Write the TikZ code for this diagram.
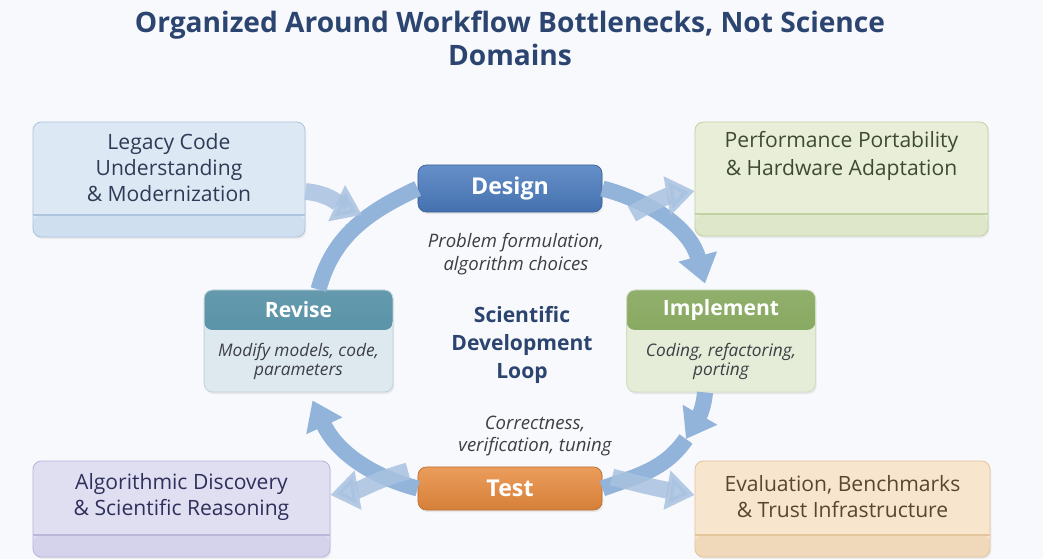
\documentclass[tikz,border=0pt]{standalone}
\usepackage{fontspec}
\setmainfont{Open Sans}
\usetikzlibrary{arrows.meta,shadows}

\definecolor{bgcol}{HTML}{F8F9FC}
\definecolor{titlecol}{HTML}{2B4470}
\definecolor{notecol}{HTML}{3C3F45}
\definecolor{loopcol}{HTML}{93B4DA}
\definecolor{sidecol}{HTML}{A9C2E0}
\definecolor{legfill}{HTML}{DDE8F5}
\definecolor{legdraw}{HTML}{AFC4DE}
\definecolor{legfoot}{HTML}{D0DFF0}
\definecolor{legtext}{HTML}{2E3B55}
\definecolor{perffill}{HTML}{E8EED8}
\definecolor{perfdraw}{HTML}{C3D2A5}
\definecolor{perffoot}{HTML}{DEE7C9}
\definecolor{perftext}{HTML}{3F4A35}
\definecolor{algfill}{HTML}{E0DFF2}
\definecolor{algdraw}{HTML}{B9B7DA}
\definecolor{algfoot}{HTML}{D5D3EC}
\definecolor{algtext}{HTML}{2E2F5A}
\definecolor{evalfill}{HTML}{F8E5CD}
\definecolor{evaldraw}{HTML}{E3C59E}
\definecolor{evalfoot}{HTML}{F0D8BA}
\definecolor{evaltext}{HTML}{5A4630}
\definecolor{designcol}{HTML}{4A7BBE}
\definecolor{testcol}{HTML}{E88B3E}
\definecolor{revhead}{HTML}{4A889F}
\definecolor{revbody}{HTML}{DDE8EF}
\definecolor{imphead}{HTML}{7DA152}
\definecolor{impbody}{HTML}{E5ECD7}

\tikzset{
	outerbox/.style n args={3}{rounded corners=6pt, fill=#1, draw=#2, line width=0.6pt,
		drop shadow={opacity=0.12,shadow xshift=0.03cm,shadow yshift=-0.05cm},
		path picture={\fill[#3] (path picture bounding box.south west) rectangle ([yshift=0.55cm]path picture bounding box.south east);
			\draw[#2,line width=0.8pt] ([yshift=0.55cm]path picture bounding box.south west) -- ([yshift=0.55cm]path picture bounding box.south east);}},
	outertext/.style={font=\fontsize{15}{18.5}\selectfont, align=center},
	phasebox/.style 2 args={rounded corners=6pt, fill=#2, draw=#1!35, line width=0.6pt,
		minimum width=4.72cm, minimum height=2.55cm,
		drop shadow={opacity=0.15,shadow xshift=0.03cm,shadow yshift=-0.05cm},
		path picture={\shade[top color=#1!85!white, bottom color=#1] (path picture bounding box.north west) rectangle ([yshift=-1cm]path picture bounding box.north east);}},
	stepbtn/.style={rounded corners=6pt, top color=#1!85!white, bottom color=#1!92!black, draw=#1!80!black,
		line width=0.5pt, minimum width=4.6cm, text=white, font=\bfseries\fontsize{16.5}{18}\selectfont,
		drop shadow={opacity=0.15,shadow xshift=0.03cm,shadow yshift=-0.05cm}},
	headtext/.style={text=white, font=\bfseries\fontsize{15}{18}\selectfont},
	notetext/.style={text=notecol, font=\itshape\fontsize{13.2}{16.3}\selectfont, align=center},
	bodytext/.style={text=notecol, font=\itshape\fontsize{12.3}{13.8}\selectfont, align=center},
	loopband/.style={draw=loopcol, line width=0.4cm},
	looptip/.style={-{Triangle[width=0.95cm,length=0.7cm]}},
	sidearrow/.style={draw=sidecol, line width=0.42cm, opacity=0.85, -{Triangle[width=0.95cm,length=0.7cm]}},
}

\begin{document}
\begin{tikzpicture}[x=0.025cm, y=0.025cm]
	\path[use as bounding box, fill=bgcol] (0,0) rectangle (1043,559);

	\node[font=\bfseries\fontsize{20}{23.4}\selectfont, text=titlecol, align=center] (title) at (510,520.5)
		{Organized Around Workflow Bottlenecks, Not Science\\Domains};

	% outer boxes
	\node[outerbox={legfill}{legdraw}{legfoot}, minimum width=6.8cm, minimum height=2.875cm] (legacy) at (169,379.5) {};
	\node[outertext, text=legtext] (legacytxt) at ([yshift=0.29cm]legacy.center) {Legacy Code\\Understanding\\\& Modernization};
	\node[outerbox={perffill}{perfdraw}{perffoot}, minimum width=7.325cm, minimum height=2.85cm] (perf) at (841.5,380) {};
	\node[outertext, text=perftext, font=\fontsize{15}{19.8}\selectfont] (perftxt) at ([yshift=0.58cm]perf.center) {Performance Portability\\\& Hardware Adaptation};
	\node[outerbox={algfill}{algdraw}{algfoot}, minimum width=7.425cm, minimum height=2.4cm] (algo) at (181.5,50) {};
	\node[outertext, text=algtext] (algotxt) at ([yshift=0.3cm]algo.center) {Algorithmic Discovery\\\& Scientific Reasoning};
	\node[outerbox={evalfill}{evaldraw}{evalfoot}, minimum width=7.375cm, minimum height=2.4cm] (eval) at (842.5,50) {};
	\node[outertext, text=evaltext] (evaltxt) at ([yshift=0.3cm]eval.center) {Evaluation, Benchmarks\\\& Trust Infrastructure};

	% loop steps
	\node[stepbtn=designcol, minimum height=1.175cm] (design) at (510,370.5) {Design};
	\node[notetext] (designnote) at (516,305) {Problem formulation,\\algorithm choices};
	\node[stepbtn=testcol, minimum height=1.075cm] (test) at (510,70.5) {Test};
	\node[notetext] (testnote) at (535,123) {Correctness,\\verification, tuning};

	\node[phasebox={revhead}{revbody}] (revise) at (298.5,218) {};
	\node[headtext] (revisehead) at ([yshift=-0.5cm]revise.north) {Revise};
	\node[bodytext] (revisebody) at ([yshift=-1.79cm]revise.north) {Modify models, code,\\parameters};
	\node[phasebox={imphead}{impbody}] (implement) at (721,218) {};
	\node[headtext] (implementhead) at ([yshift=-0.5cm]implement.north) {Implement};
	\node[bodytext] (implementbody) at ([yshift=-1.79cm]implement.north) {Coding, refactoring,\\porting};

	\node[font=\bfseries\fontsize{15}{19.8}\selectfont, text=titlecol, align=center] (looptitle) at (522,214)
		{Scientific\\Development\\Loop};

	% loop arrows
	\coordinate (imptip) at (686,120);
	\draw[loopband] ([xshift=0.5cm]revise.north) to[out=75,in=205] (design.west);
	\draw[loopband,looptip] (design.east) to[out=-15,in=105] ([xshift=-0.4cm,yshift=0.15cm]implement.north);
	\draw[loopband] (imptip) to[out=235,in=20] (test.east);
	\draw[loopband,looptip] ([xshift=-0.4cm]implement.south) to[out=-95,in=60] (imptip);
	\draw[loopband,looptip] (test.west) to[out=165,in=-65] ([xshift=0.35cm,yshift=-0.2cm]revise.south);

	% side arrows
	\coordinate (legtip) at (362,344);
	\coordinate (perfsrc) at (632,345);
	\coordinate (evalsrc) at (612,82);
	\coordinate (algsrc) at (408,88);
	\draw[sidearrow] ([yshift=-0.3cm]legacy.east) to[out=-5,in=155] (legtip);
	\draw[sidearrow] (perfsrc) to[out=30,in=190] ([yshift=-0.3cm]perf.west);
	\draw[sidearrow] (evalsrc) to[out=-15,in=170] ([yshift=0.35cm]eval.west);
	\draw[sidearrow] (algsrc) to[out=195,in=10] ([yshift=0.35cm]algo.east);
\end{tikzpicture}
\end{document}
